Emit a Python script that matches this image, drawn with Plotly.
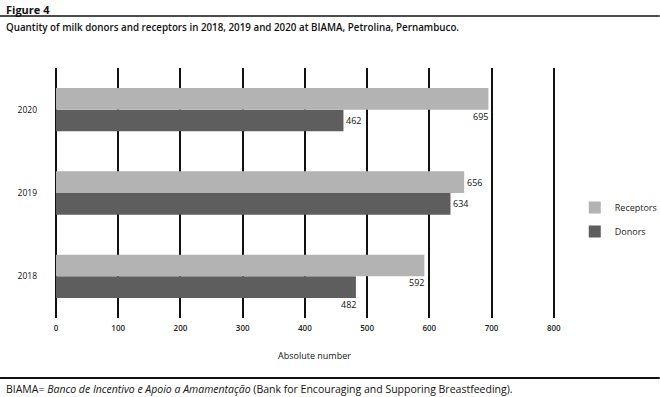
import plotly.graph_objects as go

years = ["2018", "2019", "2020"]
receptors = [592, 656, 695]
donors = [482, 634, 462]
x_ticks = [0, 100, 200, 300, 400, 500, 600, 700, 800]

title_text = "<b>Figure 4</b>"
subtitle_text = "Quantity of milk donors and receptors in 2018, 2019 and 2020 at BIAMA, Petrolina, Pernambuco."
footer_text = "BIAMA= <i>Banco de Incentivo e Apoio a Amamentação</i> (Bank for Encouraging and Supporing Breastfeeding)."
x_title = "Absolute number"

FONT = "Open Sans"
C_REC = "#b3b3b3"
C_DON = "#5e5e5e"

fig = go.Figure()
fig.add_trace(go.Bar(y=years, x=donors, name="Donors", orientation="h",
                     marker=dict(color=C_DON, line=dict(width=0)),
                     legendgroup="d", legendrank=2))
fig.add_trace(go.Bar(y=years, x=receptors, name="Receptors", orientation="h",
                     marker=dict(color=C_REC, line=dict(width=0)),
                     legendgroup="r", legendrank=1))

# value labels: placement style per bar
BAR_HALF = 10.7
rec_place = ["below", "right", "below"]
don_place = ["below", "right", "right"]

def add_label(val, idx, center_shift, place):
    if place == "right":
        fig.add_annotation(x=val, y=idx, text=str(val), showarrow=False,
                           xanchor="left", yanchor="middle", xshift=1,
                           yshift=center_shift,
                           font=dict(family=FONT, size=9, color="#111"))
    else:
        fig.add_annotation(x=val, y=idx, text=str(val), showarrow=False,
                           xanchor="right", yanchor="top", xshift=2,
                           yshift=center_shift - BAR_HALF + 2,
                           font=dict(family=FONT, size=9, color="#111"))

for i, (v, p) in enumerate(zip(receptors, rec_place)):
    add_label(v, i, BAR_HALF, p)
for i, (v, p) in enumerate(zip(donors, don_place)):
    add_label(v, i, -BAR_HALF, p)

L, T, B = 56, 68, 79
W_PLOT = 0.6225 * 810
R = 660 - L - W_PLOT
H_PLOT = 397 - T - B

def px_x(p):
    return (p - L) / W_PLOT

def px_y(p):
    return (397 - B - p) / H_PLOT

fig.update_layout(
    width=660, height=397,
    margin=dict(l=L, r=R, t=T, b=B, pad=0, autoexpand=False),
    paper_bgcolor="white", plot_bgcolor="white",
    barmode="group", bargap=0.48, bargroupgap=0,
    font=dict(family=FONT, size=9, color="#111"),
    showlegend=True,
    legend=dict(x=px_x(575), y=px_y(193), xanchor="left", yanchor="top",
                traceorder="grouped", tracegroupgap=5,
                font=dict(family=FONT, size=9, color="#222"),
                itemwidth=30, bgcolor="rgba(0,0,0,0)"),
    xaxis=dict(range=[0, 810], tickvals=x_ticks, ticktext=[str(t) for t in x_ticks],
               showgrid=True, gridcolor="#111", gridwidth=1.5,
               zeroline=True, zerolinecolor="#111", zerolinewidth=1.5,
               showline=False, ticks="", ticklabelstandoff=4,
               tickfont=dict(family=FONT, size=8, color="#222", weight=600)),
    yaxis=dict(type="category", categoryorder="array", categoryarray=years,
               range=[-0.5, 2.5], showgrid=False, zeroline=False, showline=False,
               ticks="", ticklabelstandoff=18,
               tickfont=dict(family=FONT, size=8.5, color="#111")),
    shapes=[
        dict(type="line", xref="paper", yref="paper", x0=px_x(0), x1=px_x(660),
             y0=px_y(16), y1=px_y(16), line=dict(color="#111", width=1.5)),
        dict(type="line", xref="paper", yref="paper", x0=px_x(0), x1=px_x(660),
             y0=px_y(378), y1=px_y(378), line=dict(color="#111", width=2)),
    ],
)

fig.add_annotation(xref="paper", yref="paper", x=px_x(4), y=px_y(9),
                   text=title_text, showarrow=False, xanchor="left", yanchor="middle",
                   font=dict(family=FONT, size=11, color="#111"))
fig.add_annotation(xref="paper", yref="paper", x=px_x(4), y=px_y(27),
                   text=subtitle_text, showarrow=False, xanchor="left", yanchor="middle",
                   font=dict(family=FONT, size=9.8, color="#111", weight=600))
fig.add_annotation(xref="paper", yref="paper", x=px_x(315), y=px_y(355),
                   text=x_title, showarrow=False, xanchor="center", yanchor="middle",
                   font=dict(family=FONT, size=9, color="#111"))
fig.add_annotation(xref="paper", yref="paper", x=px_x(4), y=px_y(389),
                   text=footer_text, showarrow=False, xanchor="left", yanchor="middle",
                   font=dict(family=FONT, size=10.5, color="#111"))

fig.write_html("out.html", config={"displayModeBar": False},
               post_script="document.body.style.margin='0';document.body.style.padding='0';")
